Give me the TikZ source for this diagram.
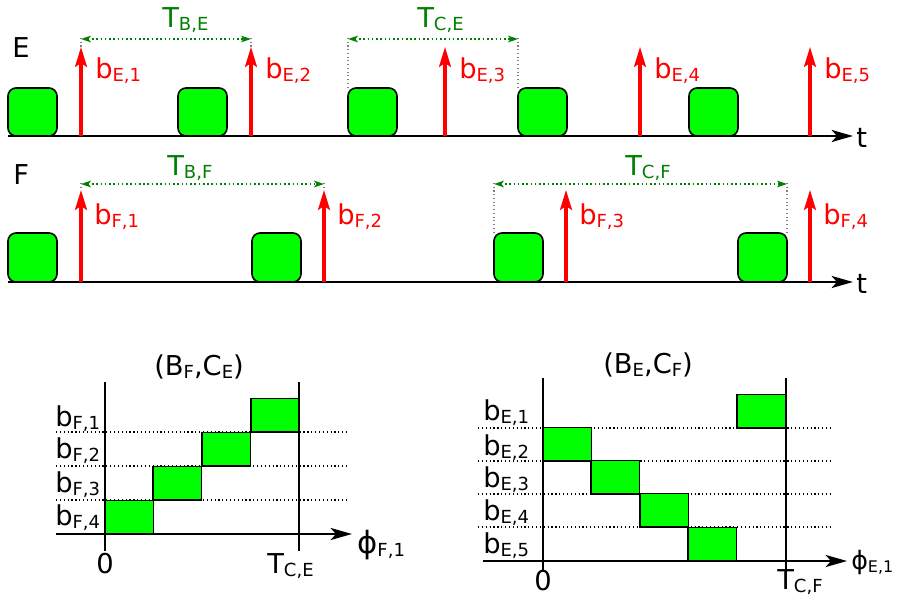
\documentclass[tikz,border=0pt]{standalone}
\usepackage{fontspec}
\setmainfont{DejaVu Sans}
\usetikzlibrary{arrows.meta}
\definecolor{boxgreen}{RGB}{0,255,0}
\definecolor{spangreen}{RGB}{0,128,0}
\newcommand\lab[2]{#1\raisebox{-2.6pt}{\fontsize{13.5}{14}\selectfont #2}}
\newcommand\labsmall[2]{#1\raisebox{-2.4pt}{\fontsize{12}{13}\selectfont #2}}
\tikzset{
  slot/.style={draw=black, line width=1.2pt, fill=boxgreen, rounded corners=6pt},
  cell/.style={draw=black, line width=0.9pt, fill=boxgreen},
  burst/.style={red, line width=2.3pt, -{Stealth[length=15pt,width=9pt,inset=3pt]}},
  taxis/.style={line width=1.7pt, -{Stealth[length=16pt,width=9pt,inset=4pt]}},
  paxis/.style={line width=1.9pt, -{Stealth[length=16pt,width=9pt,inset=4pt]}},
  span/.style={spangreen, dotted, line width=1.2pt, {Stealth[length=7.5pt,width=5pt,inset=2pt]}-{Stealth[length=7.5pt,width=5pt,inset=2pt]}},
  guide/.style={gray, dotted, line width=0.8pt},
  row/.style={black, dotted, line width=0.9pt},
  txt/.style={inner sep=0pt, anchor=base west, font=\fontsize{20.5}{22}\selectfont},
}
\begin{document}
\begin{tikzpicture}[x=0.75pt,y=-0.75pt]
  \useasboundingbox (0,0) rectangle (897,596);
  % timeline E
  \foreach \x in {8,178,348,518,689}
    \draw[slot] (\x,136) rectangle ++(49,-48);
  \coordinate (E0) at (8,136);
  \coordinate (E1) at (853,136);
  \draw[taxis] (E0) -- (E1);
  \node[txt] (tE) at (856,147) {t};
  \node[txt] (nameE) at (12,57) {E};
  \foreach \x/\i in {81/1,251/2,445/3,640/4,810/5} {
    \draw[burst] (\x,136) -- (\x,47);
    \node[txt, red] (bE\i) at (\x+14,78) {\lab{b}{E,\i}};
  }
  \draw[guide] (81,38) -- (81,47);
  \draw[guide] (251,38) -- (251,47);
  \draw[span] (81,39) -- (251,39);
  \node[txt, spangreen] (TBE) at (162,27.5) {\lab{T}{B,E}};
  \draw[guide] (348,38) -- (348,88);
  \draw[guide] (518,38) -- (518,88);
  \draw[span] (348,39) -- (518,39);
  \node[txt, spangreen] (TCE) at (417,27.5) {\lab{T}{C,E}};

  % timeline F
  \foreach \x in {8,252,494,738}
    \draw[slot] (\x,282) rectangle ++(49,-49);
  \coordinate (F0) at (8,282);
  \coordinate (F1) at (853,282);
  \draw[taxis] (F0) -- (F1);
  \node[txt] (tF) at (856,293) {t};
  \node[txt] (nameF) at (13,184) {F};
  \foreach \x/\i in {81/1,324/2,566/3,810/4} {
    \draw[burst] (\x,282) -- (\x,190);
    \node[txt, red] (bF\i) at (\x+13,224) {\lab{b}{F,\i}};
  }
  \draw[guide] (81,183) -- (81,190);
  \draw[guide] (324,183) -- (324,190);
  \draw[span] (81,184) -- (324,184);
  \node[txt, spangreen] (TBF) at (167,175) {\lab{T}{B,F}};
  \draw[guide] (494,183) -- (494,233);
  \draw[guide] (787,183) -- (787,233);
  \draw[span] (494,184) -- (787,184);
  \node[txt, spangreen] (TCF) at (625,175) {\lab{T}{C,F}};

  % plot (B_F, C_E)
  \foreach \y in {432,466,500}
    \draw[row] (56,\y) -- (348,\y);
  \foreach \x/\y in {105/534,153/500,202/466,251/432}
    \draw[cell] (\x,\y) rectangle ++(48.5,-33.5);
  \draw[line width=1.9pt] (105,382) -- (105,551);
  \draw[line width=1.9pt] (299,382) -- (299,551);
  \coordinate (L0) at (56,534);
  \coordinate (L1) at (352,534);
  \draw[paxis] (L0) -- (L1);
  \node[txt] (titleL) at (154,375) {(\lab{B}{F},\lab{C}{E})};
  \foreach \y/\i in {426/1,458/2,492/3,525/4}
    \node[txt] (rF\i) at (55,\y) {\lab{b}{F,\i}};
  \node[txt, anchor=base] (zeroL) at (105,573) {0};
  \node[txt] (endL) at (267,573) {\lab{T}{C,E}};
  \node[txt, font=\fontsize{23}{24}\selectfont] (phiL) at (357,553) {\lab{ϕ}{F,1}};

  % plot (B_E, C_F)
  \foreach \y in {428,461,494,527}
    \draw[row] (478,\y) -- (832,\y);
  \foreach \x/\y in {737/428,543/461,591/494,640/527,688/561}
    \draw[cell] (\x,\y) rectangle ++(48.5,-33.5);
  \draw[line width=1.9pt] (543,378) -- (543,572);
  \draw[line width=1.9pt] (786,378) -- (786,572);
  \coordinate (R0) at (483,561);
  \coordinate (R1) at (847,561);
  \draw[paxis] (R0) -- (R1);
  \node[txt] (titleR) at (603,373) {(\lab{B}{E},\lab{C}{F})};
  \foreach \y/\i in {420/1,455/2,487/3,520/4,553/5}
    \node[txt] (rE\i) at (483,\y) {\lab{b}{E,\i}};
  \node[txt, anchor=base] (zeroR) at (543,590) {0};
  \node[txt] (endR) at (777,589) {\lab{T}{C,F}};
  \node[txt, font=\fontsize{19}{20}\selectfont] (phiR) at (851,569) {\labsmall{ϕ}{E,1}};
\end{tikzpicture}
\end{document}
